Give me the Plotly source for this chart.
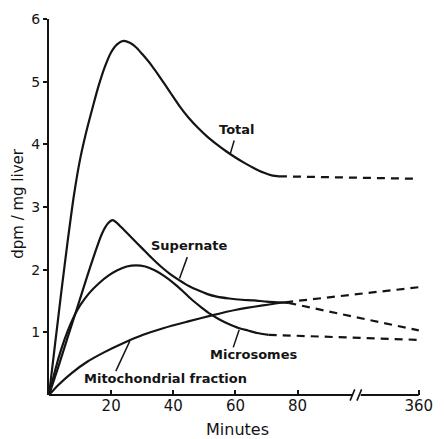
import plotly.graph_objects as go

# ---- data (minutes, dpm/mg liver) ----
total_t = [0, 2, 4, 6, 8, 10, 12, 14, 16, 18, 20, 22, 24, 26, 28, 30, 33, 36, 39, 42, 45, 48, 51, 54, 57, 60, 63, 66, 69, 72, 74]
total_v = [0, 0.83, 1.66, 2.45, 3.18, 3.76, 4.2, 4.58, 4.94, 5.24, 5.47, 5.6, 5.65, 5.62, 5.55, 5.44, 5.26, 5.05, 4.83, 4.61, 4.42, 4.26, 4.12, 4.0, 3.89, 3.79, 3.7, 3.62, 3.55, 3.5, 3.49]
total_dash_t = [74, 360]
total_dash_v = [3.49, 3.45]

super_t = [0, 3, 6, 9, 12, 15, 17, 19, 20.5, 22, 24, 27, 30, 33, 36, 39, 42, 45, 48, 51, 54, 58, 62, 66, 70, 74, 77]
super_v = [0, 0.45, 0.92, 1.38, 1.85, 2.3, 2.57, 2.74, 2.79, 2.74, 2.64, 2.49, 2.34, 2.19, 2.05, 1.93, 1.83, 1.74, 1.67, 1.61, 1.57, 1.54, 1.52, 1.51, 1.49, 1.48, 1.47]
super_dash_t = [77, 360]
super_dash_v = [1.47, 1.03]

micro_t = [0, 2, 4, 6, 8, 10, 13, 16, 19, 22, 25, 28, 31, 34, 37, 40, 43, 46, 49, 52, 55, 58, 61, 64, 67, 70.7]
micro_v = [0, 0.4, 0.74, 1.02, 1.25, 1.43, 1.63, 1.78, 1.9, 1.99, 2.05, 2.07, 2.05, 1.99, 1.9, 1.79, 1.66, 1.52, 1.4, 1.29, 1.2, 1.13, 1.07, 1.03, 0.99, 0.96]
micro_dash_t = [70.7, 360]
micro_dash_v = [0.96, 0.88]

mito_t = [0, 3, 7.3, 12.3, 17.7, 24, 30.3, 37, 44.5, 52.4, 60.3, 68.8, 76]
mito_v = [0, 0.16, 0.35, 0.53, 0.68, 0.83, 0.96, 1.07, 1.17, 1.27, 1.36, 1.43, 1.48]
mito_dash_t = [76, 360]
mito_dash_v = [1.48, 1.72]

x_tick_minutes = [20, 40, 60, 80, 360]
x_tick_labels = ["20", "40", "60", "80", "360"]
y_ticks = [1, 2, 3, 4, 5, 6]

# labels: (text, text_t, text_v, leader from (t,v) to (t,v))
labels = [
    ("Total", 60.6, 4.24, (59.6, 4.06), (58.4, 3.86)),
    ("Supernate", 45.1, 2.39, (44.5, 2.2), (42.0, 1.86)),
    ("Microsomes", 65.9, 0.65, (59.3, 0.76), (61.2, 1.04)),
    ("Mitochondrial fraction", 37.5, 0.27, (21.5, 0.38), (26.0, 0.86)),
]

# axis break: linear to 100 min, compressed beyond
def xpos(m):
    return m if m <= 100 else 100 + (m - 100) * 19.0 / 260.0

def xs(lst):
    return [xpos(m) for m in lst]

INK = "#141414"
FONT = "DejaVu Sans"

fig = go.Figure()
solid = [(total_t, total_v), (super_t, super_v), (micro_t, micro_v), (mito_t, mito_v)]
dashed = [(total_dash_t, total_dash_v), (super_dash_t, super_dash_v),
          (micro_dash_t, micro_dash_v), (mito_dash_t, mito_dash_v)]
for t, v in solid:
    fig.add_trace(go.Scatter(x=xs(t), y=v, mode="lines",
                             line=dict(color=INK, width=2.2, shape="spline", smoothing=0.6),
                             showlegend=False, hoverinfo="skip"))
for t, v in dashed:
    fig.add_trace(go.Scatter(x=xs(t), y=v, mode="lines",
                             line=dict(color=INK, width=2.2, dash="8px,6px"),
                             showlegend=False, hoverinfo="skip"))

shapes = []
annotations = []
for text, tx, ty, p0, p1 in labels:
    annotations.append(dict(x=xpos(tx), y=ty, xref="x", yref="y", text=text, showarrow=False,
                            font=dict(family=FONT, size=13, color=INK, weight="bold")))
    shapes.append(dict(type="line", xref="x", yref="y", x0=xpos(p0[0]), y0=p0[1],
                       x1=xpos(p1[0]), y1=p1[1], line=dict(color=INK, width=1.5)))

# x-axis line with break marks
brk_lo, brk_hi = 97.5, 100.3
shapes.append(dict(type="line", xref="x", yref="paper", x0=0, x1=brk_lo, y0=0, y1=0,
                   line=dict(color=INK, width=2)))
shapes.append(dict(type="line", xref="x", yref="paper", x0=brk_hi, x1=xpos(360), y0=0, y1=0,
                   line=dict(color=INK, width=2)))
for sx in (96.9, 99.1):
    shapes.append(dict(type="line", xref="x", yref="paper", x0=sx, x1=sx + 1.5,
                       y0=-0.015, y1=0.015, line=dict(color=INK, width=1.6)))

# axis titles
annotations.append(dict(x=0.5, y=-0.093, xref="paper", yref="paper", text="Minutes",
                        showarrow=False, font=dict(family=FONT, size=16, color=INK),
                        xanchor="center", yanchor="middle"))
annotations.append(dict(x=-0.081, y=0.51, xref="paper", yref="paper", text="dpm / mg liver",
                        showarrow=False, textangle=-90, font=dict(family=FONT, size=15, color=INK),
                        xanchor="center", yanchor="middle"))

fig.update_layout(
    width=444, height=439,
    margin=dict(l=49, r=11, t=18, b=44),
    plot_bgcolor="white", paper_bgcolor="white",
    shapes=shapes, annotations=annotations,
    font=dict(family=FONT, color=INK),
    xaxis=dict(range=[0, 121], showline=False, showgrid=False, zeroline=False,
               tickvals=xs(x_tick_minutes), ticktext=x_tick_labels,
               ticks="inside", ticklen=5, tickwidth=1.6, tickcolor=INK,
               tickfont=dict(family=FONT, size=15, color=INK)),
    yaxis=dict(range=[0, 6], showline=True, linewidth=2, linecolor=INK, showgrid=False,
               zeroline=False, tickvals=y_ticks, ticks="outside", ticklen=4, tickwidth=1.6,
               tickcolor=INK, tickfont=dict(family=FONT, size=14, color=INK)),
)

fig.write_html("out.html")
